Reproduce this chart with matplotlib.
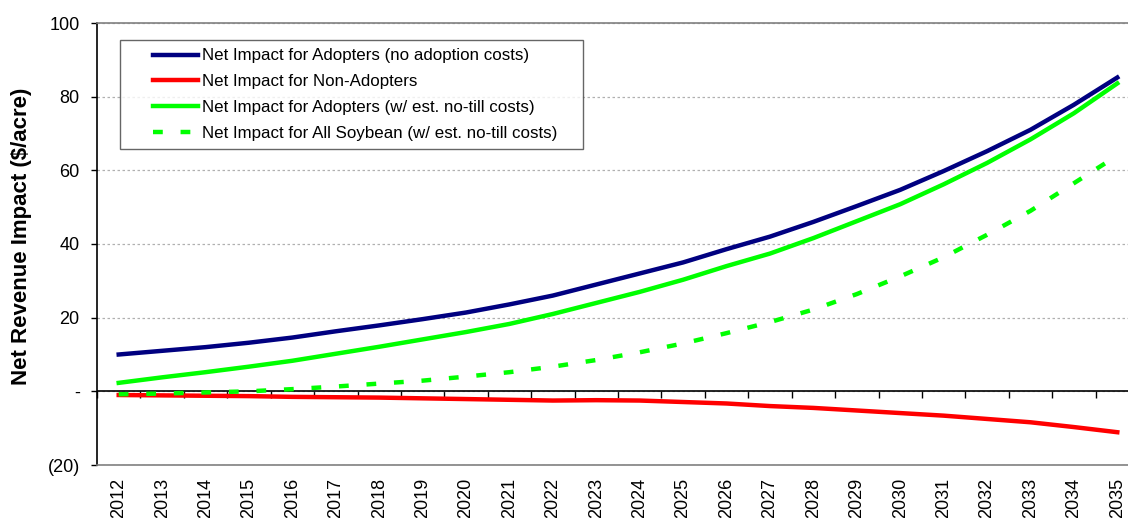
import matplotlib
matplotlib.use("Agg")
import matplotlib.pyplot as plt
from matplotlib.legend_handler import HandlerLine2D

plt.rcParams['font.family'] = ['Liberation Sans', 'DejaVu Sans']

years = list(range(2012, 2036))

adopters_no_cost = [10.0, 11.0, 12.0, 13.2, 14.6, 16.3, 17.9, 19.6, 21.4, 23.6, 26.0, 29.0,
                    32.0, 35.0, 38.6, 42.0, 46.0, 50.3, 54.7, 59.8, 65.2, 71.0, 77.8, 85.2]
non_adopters = [-1.0, -1.1, -1.2, -1.3, -1.5, -1.6, -1.7, -1.9, -2.1, -2.3, -2.5, -2.4,
                -2.5, -2.9, -3.3, -4.0, -4.5, -5.2, -5.9, -6.6, -7.5, -8.4, -9.7, -11.1]
adopters_notill = [2.3, 3.8, 5.2, 6.7, 8.3, 10.2, 12.1, 14.1, 16.1, 18.3, 21.0, 24.0,
                   27.0, 30.3, 34.0, 37.4, 41.6, 46.2, 50.8, 56.2, 62.0, 68.4, 75.5, 83.6]
all_soybean = [-0.8, -0.6, -0.3, 0.0, 0.6, 1.3, 2.1, 2.9, 4.0, 5.2, 6.7, 8.5,
               10.6, 13.0, 15.8, 18.8, 22.2, 26.4, 31.2, 36.4, 42.5, 49.0, 56.5, 64.0]

y_ticks = [-20, 0, 20, 40, 60, 80, 100]
y_tick_labels = ['(20)', '-', '20', '40', '60', '80', '100']

labels = ['Net Impact for Adopters (no adoption costs)',
          'Net Impact for Non-Adopters',
          'Net Impact for Adopters (w/ est. no-till costs)',
          'Net Impact for All Soybean (w/ est. no-till costs)']


class IndentedLine(HandlerLine2D):
    # leave blank room on the left of each legend key
    def create_artists(self, legend, orig_handle, xdescent, ydescent, width,
                       height, fontsize, trans):
        shift = width * 0.35
        return super().create_artists(legend, orig_handle, xdescent - shift, ydescent,
                                      width - shift, height, fontsize, trans)


fig = plt.figure(figsize=(11.28, 5.18), dpi=100)
ax = fig.add_axes([97 / 1128, 53 / 518, 1042 / 1128, 442 / 518])

lw = 3.2
ax.plot(years, adopters_no_cost, color='#000080', lw=lw, label=labels[0], zorder=3)
ax.plot(years, non_adopters, color='#ff0000', lw=lw, label=labels[1], zorder=3)
ax.plot(years, adopters_notill, color='#00ff00', lw=lw, label=labels[2], zorder=3)
ax.plot(years, all_soybean, color='#00ff00', lw=lw, dashes=(2.2, 4.0),
        dash_capstyle='butt', label=labels[3], zorder=3)

ax.set_xlim(years[0] - 0.5, years[-1] + 0.5)
ax.set_ylim(-20, 100)

ax.set_yticks(y_ticks)
ax.set_yticklabels(y_tick_labels)
ax.tick_params(axis='y', direction='out', length=4.5, width=1, pad=8, labelsize=13)

ax.set_xticks(years)
ax.set_xticklabels([str(y) for y in years], rotation=90)
ax.tick_params(axis='x', length=0, pad=9, labelsize=13)

ax.grid(axis='y', color='#b0b0b0', linestyle=(0, (2, 2)), lw=0.9)
ax.set_axisbelow(True)
ax.axhline(0, color='black', lw=1.2, zorder=2)

for side in ['top', 'bottom']:
    ax.spines[side].set_color('#808080')
    ax.spines[side].set_linewidth(1.2)
ax.spines['right'].set_visible(False)
ax.spines['left'].set_linewidth(1.2)

# category tick marks along the zero line
zero_frac = (0 - (-20)) / 120
sec = ax.secondary_xaxis(zero_frac)
sec.set_xticks([y - 0.5 for y in years] + [years[-1] + 0.5])
sec.tick_params(axis='x', direction='out', length=5, width=1, labelbottom=False)
sec.spines['bottom'].set_visible(False)

leg = ax.legend(loc='upper left',
                bbox_to_anchor=(23 / 1042, (465 - 148) / 442, 463 / 1042, 108 / 442),
                mode='expand', borderaxespad=0, fontsize=12.2, frameon=True,
                fancybox=False, edgecolor='#404040', handlelength=4.1,
                handletextpad=0.24, labelspacing=0.64, borderpad=0.5,
                handler_map={plt.Line2D: IndentedLine()})
leg.get_frame().set_linewidth(1.0)

fig.text(22 / 1128, (518 - 236) / 518, 'Net Revenue Impact ($/acre)', rotation=90,
         ha='center', va='center', fontsize=16, fontweight='bold')

fig.savefig('out.png', dpi=100)
